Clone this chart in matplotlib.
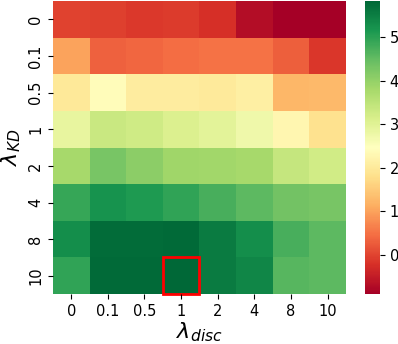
import numpy as np
import matplotlib
matplotlib.use("Agg")
import matplotlib.pyplot as plt
import matplotlib.patches as patches
import seaborn as sns

disc_labels = ["0", "0.1", "0.5", "1", "2", "4", "8", "10"]
kd_labels = ["0", "0.1", "0.5", "1", "2", "4", "8", "10"]

# rows: lambda_KD, cols: lambda_disc
row_0 = [-0.02, -0.05, -0.12, -0.10, -0.23, -0.70, -0.90, -0.88]
row_01 = [1.00, 0.31, 0.38, 0.45, 0.50, 0.50, 0.30, -0.16]
row_05 = [1.99, 2.40, 2.05, 2.05, 2.00, 2.10, 1.25, 1.27]
row_1 = [2.87, 3.34, 3.27, 3.07, 2.95, 2.73, 2.26, 1.86]
row_2 = [3.80, 4.28, 4.08, 3.88, 3.85, 3.80, 3.40, 3.24]
row_4 = [4.90, 5.20, 5.10, 4.95, 4.75, 4.55, 4.35, 4.30]
row_8 = [5.30, 5.76, 5.76, 5.80, 5.56, 5.30, 4.75, 4.55]
row_10 = [4.95, 5.78, 5.80, 5.83, 5.55, 5.40, 4.60, 4.55]

data = np.array([row_0, row_01, row_05, row_1, row_2, row_4, row_8, row_10])

fig = plt.figure(figsize=(3.98, 3.44), dpi=100)
ax = fig.add_axes([0.133, 0.145, 0.736, 0.852])
cax = fig.add_axes([0.917, 0.145, 0.038, 0.852])

sns.heatmap(data, cmap="RdYlGn", ax=ax, cbar_ax=cax,
            xticklabels=disc_labels, yticklabels=kd_labels)

ax.tick_params(labelsize=10.5)
ax.set_yticklabels(kd_labels, rotation=90, va="center")
ax.set_xticklabels(disc_labels, rotation=0)
ax.set_xlabel(r"$\lambda_{disc}$", fontsize=16, labelpad=1)
ax.set_ylabel(r"$\lambda_{KD}$", fontsize=16)
cax.tick_params(labelsize=10.5)

# highlight best cell
best = np.unravel_index(np.argmax(data), data.shape)
ax.add_patch(patches.Rectangle((best[1], best[0]), 1, 1, fill=False,
                               edgecolor="red", lw=2, clip_on=False))

fig.savefig("out.png", dpi=100)
